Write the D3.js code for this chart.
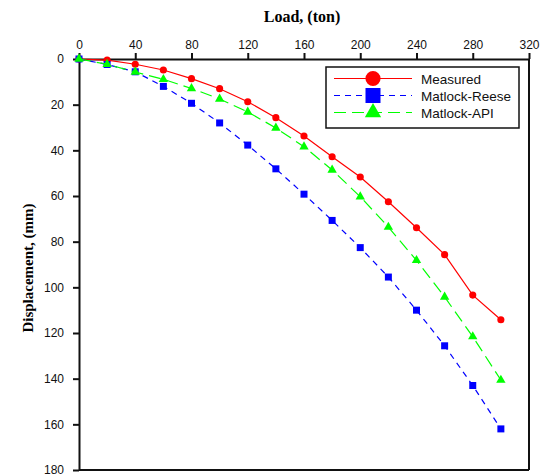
<!DOCTYPE html>
<html>
<head>
<meta charset="utf-8">
<script src="https://cdn.jsdelivr.net/npm/d3@7"></script>
<style>
  html, body { margin: 0; padding: 0; background: #fff; }
  svg { display: block; }
</style>
</head>
<body>
<svg id="chart" width="552" height="475"></svg>
<script>
// Load steps (ton) and pile head displacement (mm)
const loads = [0, 20, 40, 60, 80, 100, 120, 140, 160, 180, 200, 220, 240, 260, 280, 300];
const measured = [0, 0.5, 2.3, 4.8, 8.6, 13.0, 18.7, 25.7, 33.7, 42.8, 51.7, 62.5, 73.9, 85.7, 103.4, 114.2];
const matlockReese = [0, 2.4, 5.6, 12.0, 19.4, 28.0, 37.7, 48.1, 59.2, 70.7, 82.6, 95.5, 110.0, 125.6, 143.0, 162.0];
const matlockAPI = [0, 2.3, 5.7, 8.9, 12.9, 17.5, 23.2, 30.2, 38.4, 48.6, 60.3, 73.6, 88.2, 104.2, 121.6, 140.6];
const xTicks = [0, 40, 80, 120, 160, 200, 240, 280, 320];
const yTicks = [0, 20, 40, 60, 80, 100, 120, 140, 160, 180];
const seriesNames = ["Measured", "Matlock-Reese", "Matlock-API"];

(function () {
  const svg = d3.select("#chart");
  const plotLeft = 79, plotRight = 529, plotTop = 59, plotBottom = 470;

  const x = d3.scaleLinear().domain([0, 320]).range([plotLeft, plotRight]);
  const y = d3.scaleLinear().domain([0, 180]).range([plotTop, plotBottom]);

  const series = [
    { name: seriesNames[0], values: measured, color: "#ff0000", dash: null, shape: d3.symbolCircle, size: 40, legSize: 180 },
    { name: seriesNames[1], values: matlockReese, color: "#0000ff", dash: "6,5", shape: d3.symbolSquare, size: 49, legSize: 225 },
    { name: seriesNames[2], values: matlockAPI, color: "#00ff00", dash: "12,6", shape: d3.symbolTriangle, size: 38, legSize: 115 }
  ];

  // Frame: right and bottom edges
  svg.append("line").attr("x1", plotRight).attr("x2", plotRight).attr("y1", plotTop).attr("y2", plotBottom)
    .attr("stroke", "#111").attr("stroke-width", 2);
  svg.append("line").attr("x1", plotLeft).attr("x2", plotRight).attr("y1", plotBottom).attr("y2", plotBottom)
    .attr("stroke", "#111").attr("stroke-width", 2);

  // Top axis
  const gx = svg.append("g").attr("transform", `translate(0,${plotTop})`)
    .call(d3.axisTop(x).tickValues(xTicks).tickSize(6).tickSizeOuter(0).tickFormat(d3.format("d")));
  // Left axis
  const gy = svg.append("g").attr("transform", `translate(${plotLeft},0)`)
    .call(d3.axisLeft(y).tickValues(yTicks).tickSize(6).tickSizeOuter(0).tickFormat(d3.format("d")));

  [gx, gy].forEach(g => {
    g.select(".domain").attr("stroke", "#111").attr("stroke-width", 2);
    g.selectAll(".tick line").attr("stroke", "#111").attr("stroke-width", 2);
    g.selectAll(".tick text").attr("fill", "#111")
      .style("font-family", "'Liberation Sans', Arial, sans-serif").style("font-size", "12px");
  });
  gx.selectAll(".tick text").attr("y", -10);
  gy.selectAll(".tick text").attr("x", -15);

  // Axis titles
  svg.append("text").attr("x", 302).attr("y", 22).attr("text-anchor", "middle")
    .style("font-family", "'Liberation Serif', 'Times New Roman', serif")
    .style("font-weight", "bold").style("font-size", "16px").attr("fill", "#000")
    .text("Load, (ton)");
  svg.append("text").attr("transform", "translate(33,268) rotate(-90)").attr("text-anchor", "middle")
    .style("font-family", "'Liberation Serif', 'Times New Roman', serif")
    .style("font-weight", "bold").style("font-size", "15px").attr("fill", "#000")
    .text("Displacement, (mm)");

  // Series lines and markers
  const line = d3.line().x(d => x(d[0])).y(d => y(d[1]));
  series.forEach(s => {
    const pts = loads.map((l, i) => [l, s.values[i]]);
    svg.append("path").datum(pts).attr("d", line)
      .attr("fill", "none").attr("stroke", s.color).attr("stroke-width", 1.2)
      .attr("stroke-dasharray", s.dash);
    svg.append("g").selectAll("path").data(pts).join("path")
      .attr("transform", d => `translate(${x(d[0])},${y(d[1])})`)
      .attr("d", d3.symbol(s.shape, s.size))
      .attr("fill", s.color);
  });

  // Legend
  const leg = svg.append("g");
  leg.append("rect").attr("x", 326).attr("y", 67).attr("width", 193).attr("height", 61)
    .attr("fill", "#fff").attr("stroke", "#111").attr("stroke-width", 1.5);
  series.forEach((s, i) => {
    const ly = 78.5 + i * 17;
    leg.append("line").attr("x1", 334).attr("x2", 412).attr("y1", ly).attr("y2", ly)
      .attr("stroke", s.color).attr("stroke-width", 1.2).attr("stroke-dasharray", s.dash);
    leg.append("path").attr("transform", `translate(373,${ly})`)
      .attr("d", d3.symbol(s.shape, s.legSize)).attr("fill", s.color);
    leg.append("text").attr("x", 421).attr("y", ly + 5)
      .style("font-family", "'Liberation Sans', Arial, sans-serif").style("font-size", "13.5px")
      .attr("fill", "#111").text(s.name);
  });
})();
</script>
</body>
</html>
